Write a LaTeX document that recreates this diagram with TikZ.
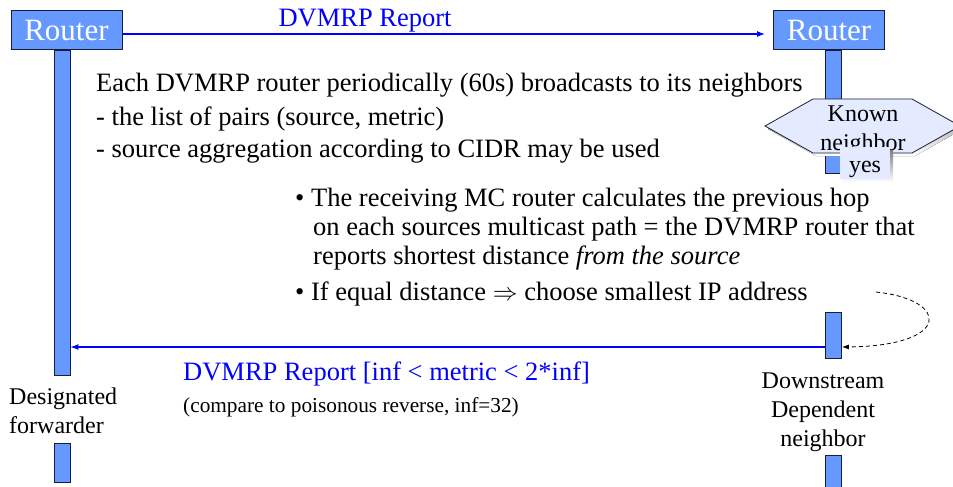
\documentclass[tikz,border=0pt]{standalone}
\usepackage{fontspec}
\setmainfont{Liberation Serif}
\usetikzlibrary{arrows.meta}
\definecolor{rfill}{RGB}{102,153,255}
\definecolor{rline}{RGB}{25,30,55}
\definecolor{pale}{RGB}{228,234,255}
\definecolor{shade}{RGB}{150,150,150}
\begin{document}
\begin{tikzpicture}[x=1pt,y=-1pt,
  router/.style={draw=rline,line width=1pt,fill=rfill,text=white,
    font=\fontsize{31}{31}\selectfont,minimum width=111pt,minimum height=39pt,
    inner sep=0pt,text depth=0pt},
  lifebar/.style={draw=rline,line width=0.8pt,fill=rfill,minimum width=16pt,inner sep=0pt},
  big/.style={font=\fontsize{26.5}{30}\selectfont,inner sep=0pt,anchor=base west},
  txt/.style={font=\fontsize{24}{28}\selectfont,inner sep=0pt,anchor=base west},
  ctxt/.style={font=\fontsize{24}{28}\selectfont,inner sep=0pt,anchor=base},
  small/.style={font=\fontsize{21.3}{25}\selectfont,inner sep=0pt,anchor=base west},
  msg/.style={blue,line width=1.1pt,-{Latex[length=8pt,width=6pt]}},
]
\useasboundingbox (0,0) rectangle (953,487);

% life lines
\node[lifebar,minimum height=325pt] (lbar1) at (62,212.5) {};
\node[lifebar,minimum height=39pt] (lbar2) at (62,462.5) {};
\node[lifebar,minimum height=123pt] (rbar1) at (833.5,111.5) {};
\node[lifebar,minimum height=46pt] (rbar2) at (833.5,335) {};
\node[lifebar,minimum height=35pt] (rbar3) at (833.5,472.5) {};

% routers
\node[router] (rleft) at (66.5,30.5) {Router};
\node[router] (rright) at (829,30.5) {Router};

% top report
\draw[msg,shorten >=8pt] (rleft.east |- 0,34) -- (rright.west |- 0,34);
\node[big,anchor=base,blue] (rep1) at (365,27) {DVMRP Report};

% decision hexagon
\fill[shade,shift={(3,3)}] (765,126) -- (813,99) -- (912,99) -- (960,126) -- (912,153) -- (813,153) -- cycle;
\draw[fill=pale,draw=rline,line width=0.8pt] (765,126) -- (813,99) -- (912,99) -- (960,126) -- (912,153) -- (813,153) -- cycle;
\node[ctxt] (known1) at (863,121) {Known};
\node[ctxt] (known2) at (863,150) {neighbor};
\fill[shade] (843,150) rectangle (893,182);
\node[fill=pale,minimum width=50pt,minimum height=32pt,inner sep=0pt] (yes) at (865,163) {};
\node[ctxt] (yestxt) at (865,172) {yes};

% explanatory text
\node[big] (t1) at (96,92) {Each DVMRP router periodically (60s) broadcasts to its neighbors};
\node[big] (t2) at (96,125) {- the list of pairs (source, metric)};
\node[big] (t3) at (96,157) {- source aggregation according to CIDR may be used};
\node[big] (b1) at (295,206) {\textbullet\ The receiving MC router calculates the previous hop};
\node[big] (b2) at (313,235) {on each sources multicast path = the DVMRP router that};
\node[big] (b3) at (313,264) {reports shortest distance \textit{from the source}};
\node[big] (b4) at (295,300) {\textbullet\ If equal distance $\Rightarrow$ choose smallest IP address};

% self loop back to the downstream router
\coordinate (loopstart) at (876,292);
\draw[dashed,dash pattern=on 4pt off 3pt,line width=0.8pt,-{Latex[length=7pt,width=5pt]}]
  (loopstart) .. controls (951,300) and (951,346) .. (rbar2.east |- 0,347);

% bottom report
\draw[msg] (rbar2.west |- 0,347) -- (lbar1.east |- 0,347);
\node[big,blue] (rep2) at (183,380) {DVMRP Report [inf < metric < 2*inf]};
\node[small] (cmp) at (183,412) {(compare to poisonous reverse, inf=32)};

% role labels
\node[txt] (d1) at (9,404) {Designated};
\node[txt] (d2) at (9,433) {forwarder};
\node[ctxt] (n1) at (823,388) {Downstream};
\node[ctxt] (n2) at (823,417) {Dependent};
\node[ctxt] (n3) at (823,446) {neighbor};
\end{tikzpicture}
\end{document}
